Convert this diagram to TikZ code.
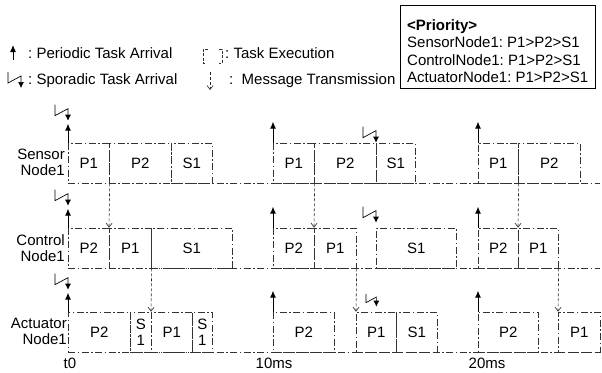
\documentclass[tikz,border=0pt]{standalone}
\usepackage{fontspec}
\setmainfont{Liberation Sans}
\usepackage{tikz}
\usetikzlibrary{arrows.meta}

\newcommand\lblfont{\fontsize{15}{16}\selectfont}

\tikzset{
  exec/.style={draw=black!80, line width=0.7pt, dash pattern=on 7pt off 2.5pt on 1.5pt off 2.5pt},
  blk/.style={exec, inner sep=0pt, minimum height=40pt, anchor=west, align=center},
  msg/.style={black!85, line width=0.6pt, densely dashed, -{Straight Barb[length=4pt,width=6pt]}},
  parr/.style={line width=1pt, -{Latex[length=7pt,width=6pt]}},
  sarr/.style={line width=0.7pt, -{Latex[length=6pt,width=6pt]}},
  spor/.pic={\draw[sarr] (-13,-16) -- (-13,-5) -- (0,-12) -- (0,0);},
}

\begin{document}
\begin{tikzpicture}[x=1pt, y=-1pt, font=\lblfont]
        \useasboundingbox (0,0) rectangle (602,372);

        % legend
        \draw [parr]                 (13,60) -- (13,45);                          %periodic
        \node [anchor=base west, inner sep=0pt] (lgper) at (28,58) {:\ Periodic Task Arrival};
        \pic at (21,88) {spor};                                                   %sporadic
        \node [anchor=base west, inner sep=0pt] (lgspo) at (28,84) {:\ Sporadic Task Arrival};
        \draw [exec, dash pattern=on 3pt off 1.5pt] (208,49) -- (203,49) -- (203,63) -- (206,63);
        \draw [exec, dash pattern=on 3pt off 1.5pt] (219,49) -- (222,49) -- (222,63) -- (219,63);
        \node [anchor=base west, inner sep=0pt] (lgexe) at (225,58) {:\ Task Execution};
        \draw [msg]                  (210,72) -- (210,90);                        %message
        \node [anchor=base west, inner sep=0pt] (lgmsg) at (229,84) {:\ \ Message Transmission};

        % priority box
        \node [draw, line width=0.9pt, minimum width=195pt, minimum height=83pt,
               anchor=north west, inner sep=0pt] (prio) at (400,5) {};
        \node [anchor=base west, inner sep=0pt, font=\lblfont\bfseries] (prhd) at (407,30) {<Priority>};
        \node [anchor=base west, inner sep=0pt] (prsn) at (407,47) {SensorNode1:\ P1>P2>S1};
        \node [anchor=base west, inner sep=0pt] (prcn) at (407,65) {ControlNode1:\ P1>P2>S1};
        \node [anchor=base west, inner sep=0pt] (pran) at (407,82) {ActuatorNode1:\ P1>P2>S1};

        % row labels
        \node [anchor=east, align=right, inner sep=0pt] (sn) at (65,162) {Sensor\\Node1};
        \node [anchor=east, align=right, inner sep=0pt] (cn) at (65,248) {Control\\Node1};
        \node [anchor=east, align=right, inner sep=0pt] (an) at (67,331) {Actuator\\Node1};

        % sensor node
        \node [blk, minimum width=41pt] (sP1a) at (68,163)  {P1};                 %SN P1
        \node [blk, minimum width=62pt] (sP2a) at (109,163) {P2};                 %SN P2
        \node [blk, minimum width=41pt] (sS1a) at (171,163) {S1};                 %SN S1
        \node [blk, minimum width=41pt] (sP1b) at (273,163) {P1};                 %SN P1
        \node [blk, minimum width=62pt] (sP2b) at (314,163) {P2};                 %SN P2
        \node [blk, minimum width=39pt] (sS1b) at (376,163) {S1};                 %SN S1
        \node [blk, minimum width=40pt] (sP1c) at (478,163) {P1};                 %SN P1
        \node [blk, minimum width=62pt] (sP2c) at (518,163) {P2};                 %SN P2
        \draw [exec] (sP1a.south west) -- (sP1a.south west -| 600,0);             %time line

        % control node
        \node [blk, minimum width=41pt] (cP2a) at (68,248)  {P2};                 %CN P2
        \node [blk, minimum width=42pt] (cP1a) at (109,248) {P1};                 %CN P1
        \node [blk, minimum width=81pt] (cS1a) at (151,248) {S1};                 %CN S1
        \node [blk, minimum width=41pt] (cP2b) at (273,248) {P2};                 %CN P2
        \node [blk, minimum width=42pt] (cP1b) at (314,248) {P1};                 %CN P1
        \node [blk, minimum width=80pt] (cS1b) at (376,248) {S1};                 %CN S1
        \node [blk, minimum width=40pt] (cP2c) at (478,248) {P2};                 %CN P2
        \node [blk, minimum width=40pt] (cP1c) at (518,248) {P1};                 %CN P1
        \draw [exec] (cP2a.south west) -- (cP2a.south west -| 600,0);             %time line

        % actuator node
        \node [blk, minimum width=62pt] (aP2a) at (68,332)  {P2};                 %AN P2
        \node [blk, minimum width=21pt] (aS1a) at (130,332) {S\\1};               %AN S1
        \node [blk, minimum width=41pt] (aP1a) at (151,332) {P1};                 %AN P1
        \node [blk, minimum width=20pt] (aS1b) at (192,332) {S\\1};               %AN S1
        \node [blk, minimum width=61pt] (aP2b) at (273,332) {P2};                 %AN P2
        \node [blk, minimum width=40pt] (aP1b) at (356,332) {P1};                 %AN P1
        \node [blk, minimum width=41pt] (aS1c) at (396,332) {S1};                 %AN S1
        \node [blk, minimum width=60pt] (aP2c) at (478,332) {P2};                 %AN P2
        \node [blk, minimum width=42pt] (aP1c) at (558,332) {P1};                 %AN P1
        \draw [exec] (aP2a.south west) -- (aP1c.south east);                      %time line

        % periodic arrivals
        \draw [parr] (sP1a.north west) -- ++(0,-19);
        \draw [parr] (sP1b.north west) -- ++(0,-21);
        \draw [parr] (sP1c.north west) -- ++(0,-21);
        \draw [parr] (cP2a.north west) -- ++(0,-19);
        \draw [parr] (cP2b.north west) -- ++(0,-21);
        \draw [parr] (cP2c.north west) -- ++(0,-21);
        \draw [parr] (aP2a.north west) -- ++(0,-19);
        \draw [parr] (aP2b.north west) -- ++(0,-21);
        \draw [parr] (aP2c.north west) -- ++(0,-21);

        % sporadic arrivals
        \pic at ([yshift=22pt]sP1a.north west) {spor};
        \pic at ([yshift=22pt]cP2a.north west) {spor};
        \pic at ([yshift=22pt]aP2a.north west) {spor};
        \pic at (sS1b.north west) {spor};
        \pic at ([yshift=5pt]cS1b.north west) {spor};
        \pic [scale=0.8] at ([yshift=5pt]aP1b.north) {spor};

        % messages
        \draw [msg] (sP1a.south east) -- (cP1a.north west);
        \draw [msg] (sP1b.south east) -- (cP1b.north west);
        \draw [msg] (sP1c.south east) -- (cP1c.north west);
        \draw [msg] (cP1a.south east) -- (aP1a.north west);
        \draw [msg] (cP1b.south east) -- (aP1b.north west);
        \draw [msg] (cP1c.south east) -- (aP1c.north west);

        % time marks
        \node (t0)  at (70,363)  {t0};
        \node (t10) at (274,363) {10ms};
        \node (t20) at (487,363) {20ms};
\end{tikzpicture}
\end{document}
